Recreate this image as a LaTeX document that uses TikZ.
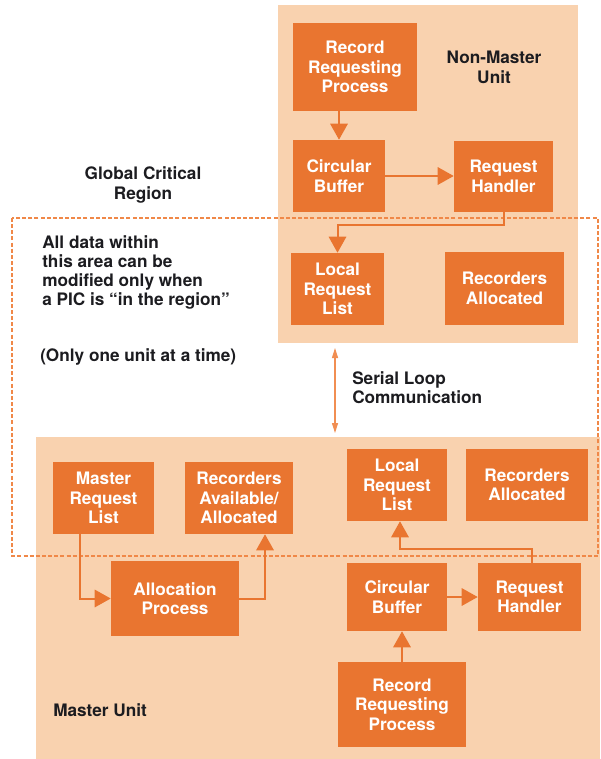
\documentclass[tikz,border=0pt]{standalone}
\usepackage{fontspec}
\setmainfont{TeX Gyre Heros}
\usetikzlibrary{arrows.meta,calc}

\definecolor{boxorange}{RGB}{233,117,48}
\definecolor{panelpeach}{RGB}{249,210,175}
\definecolor{regionline}{RGB}{240,136,72}
\definecolor{labelink}{RGB}{28,28,32}
\definecolor{serialline}{RGB}{241,142,82}

\tikzset{
  unitpanel/.style={fill=panelpeach, draw=none},
  procbox/.style={fill=boxorange, draw=none, text=white, align=center,
    font=\fontsize{12.9pt}{14.6pt}\selectfont\bfseries, inner sep=0pt},
  caption/.style={text=labelink, inner sep=0pt,
    font=\fontsize{12.9pt}{14.6pt}\selectfont\bfseries},
  flow/.style={draw=boxorange, line width=1.5pt,
    -{Triangle[length=12pt,width=13pt]}},
  regionbox/.style={draw=regionline, line width=1.1pt, dash pattern=on 3pt off 1.6pt},
  serial/.style={draw=serialline, line width=0.8pt,
    {Triangle[length=7.5pt,width=4.5pt]}-{Triangle[length=7.5pt,width=4.5pt]}},
}

\begin{document}
\begin{tikzpicture}[x=0.75pt, y=-0.75pt]
  \useasboundingbox (0,0) rectangle (600,759);
  \fill[white] (0,0) rectangle (600,759);

  % unit backgrounds
  \path[unitpanel] (278,5) rectangle (578,343);
  \path[unitpanel] (36,437) rectangle (600,759);

  % global critical region (dashed)
  \draw[regionbox] (12,218) rectangle (598,556);

  % ---- non-master unit ----
  \node[procbox, minimum width=93pt,    minimum height=66pt]    (tRRP) at (355,67)     {Record\\Requesting\\Process};
  \node[procbox, minimum width=69pt,    minimum height=54pt]    (tCB)  at (339,176)    {Circular\\Buffer};
  \node[procbox, minimum width=74.25pt, minimum height=53.25pt] (tRH)  at (503.5,176.5) {Request\\Handler};
  \node[procbox, minimum width=69.75pt, minimum height=54pt]    (tLRL) at (337.5,289)  {Local\\Request\\List};
  \node[procbox, minimum width=89.25pt, minimum height=54.75pt] (tRA)  at (504.5,288.5) {Recorders\\Allocated};
  \node[caption, align=center] (tUnit) at (494,67.5) {Non-Master\\Unit};

  \draw[flow] (tRRP.south -| tCB.north) -- (tCB.north);
  \draw[flow] (tCB.east) -- (tCB.east -| tRH.west);
  \draw[flow] (tRH.south) -- ++(0,13) -| (tLRL.north);

  % ---- master unit ----
  \node[procbox, minimum width=75.75pt, minimum height=54pt]    (MRL)  at (103.5,498) {Master\\Request\\List};
  \node[procbox, minimum width=81pt,    minimum height=54pt]    (RAA)  at (239,498)   {Recorders\\Available/\\Allocated};
  \node[procbox, minimum width=96pt,    minimum height=56.25pt] (AP)   at (175,598.5) {Allocation\\Process};
  \node[procbox, minimum width=75pt,    minimum height=54pt]    (bLRL) at (397,485)   {Local\\Request\\List};
  \node[procbox, minimum width=91.5pt,  minimum height=54pt]    (bRA)  at (527,485)   {Recorders\\Allocated};
  \node[procbox, minimum width=75pt,    minimum height=51pt]    (bCB)  at (397,597)   {Circular\\Buffer};
  \node[procbox, minimum width=77.25pt, minimum height=51pt]    (bRH)  at (529.5,597) {Request\\Handler};
  \node[procbox, minimum width=96pt,    minimum height=63.75pt] (bRRP) at (402,704.5) {Record\\Requesting\\Process};
  \node[caption, anchor=west] (bUnit) at (53,710) {Master Unit};

  \draw[flow] ($(MRL.south)+(-23.5,0)$) |- (AP.west);
  \draw[flow] (AP.east) -| ($(RAA.south)+(26,0)$);
  \draw[flow] (bRRP.north) -- (bRRP.north |- bCB.south);
  \draw[flow] (bCB.east) -- (bCB.east -| bRH.west);
  \draw[flow] ($(bRH.north)+(2.5,0)$) -- ++(0,-14) -| ($(bLRL.south)+(3,0)$);

  % ---- region captions ----
  \node[caption, align=center] (gcr) at (143,185) {Global Critical\\Region};
  \node[caption, align=left, anchor=west, font=\fontsize{12.9pt}{14.4pt}\selectfont\bfseries] (rule) at (42,272.5)
    {All data within\\this area can be\\modified only when\\a PIC is ``in the region''};
  \node[caption, anchor=west] (once) at (40,357) {(Only one unit at a time)};

  % ---- serial loop link ----
  \coordinate (s1) at (335,348);
  \coordinate (s2) at (335,433);
  \draw[serial] (s1) -- (s2);
  \node[caption, align=left, anchor=west] (slc) at (352,387.5) {Serial Loop\\Communication};
\end{tikzpicture}
\end{document}
